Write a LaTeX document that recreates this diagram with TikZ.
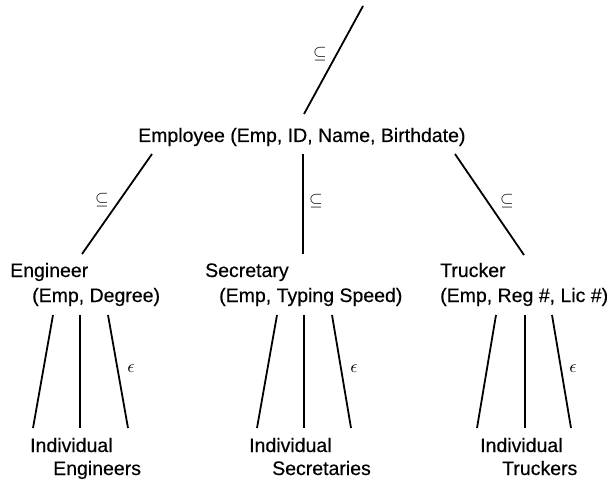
\documentclass[tikz,border=0pt]{standalone}
\usepackage{fontspec}
\setmainfont{Liberation Sans}[FakeBold=0.4]
\newcommand{\subrel}{\scalebox{1.75}{$\subseteq$}}
\newcommand{\memrel}{\scalebox{1.8}{$\epsilon$}}
\begin{document}
\begin{tikzpicture}[x=1pt,y=-1pt,
  edge/.style={line width=1.8pt},
  txt/.style={anchor=base west, inner sep=0pt, font=\fontsize{19.5}{23}\selectfont},
  rel/.style={inner sep=0pt},
  mem/.style={inner sep=0pt}]
\useasboundingbox (0,0) rectangle (612,481);
% text nodes
\node[txt] (emp) at (138,142) {Employee (Emp, ID, Name, Birthdate)};
\node[txt] (eng) at (10,277) {Engineer};
\node[txt] (enga) at (32,302) {(Emp, Degree)};
\node[txt] (sec) at (205,277) {Secretary};
\node[txt] (seca) at (219,302) {(Emp, Typing Speed)};
\node[txt] (tru) at (440,277) {Trucker};
\node[txt] (trua) at (440,302) {(Emp, Reg \#, Lic \#)};
\node[txt] (ieng) at (30,452) {Individual};
\node[txt] (ieng2) at (53,475) {Engineers};
\node[txt] (isec) at (249,452) {Individual};
\node[txt] (isec2) at (272,475) {Secretaries};
\node[txt] (itru) at (480,452) {Individual};
\node[txt] (itru2) at (502,475) {Truckers};
% line end points
\coordinate (top) at (363,6);
\coordinate (empT) at (304,114);
\coordinate (empL) at (152,154);
\coordinate (empM) at (303,154);
\coordinate (empR) at (455,154);
\coordinate (engT) at (82,254);
\coordinate (secT) at (303,254);
\coordinate (truT) at (524,255);
\coordinate (engB1) at (53,315);  \coordinate (iengT1) at (33,428);
\coordinate (engB2) at (80,315);  \coordinate (iengT2) at (80,428);
\coordinate (engB3) at (108,315); \coordinate (iengT3) at (128,428);
\coordinate (secB1) at (277,315); \coordinate (isecT1) at (257,428);
\coordinate (secB2) at (304,315); \coordinate (isecT2) at (304,428);
\coordinate (secB3) at (332,315); \coordinate (isecT3) at (351,428);
\coordinate (truB1) at (496,315); \coordinate (itruT1) at (477,428);
\coordinate (truB2) at (525,315); \coordinate (itruT2) at (525,428);
\coordinate (truB3) at (552,315); \coordinate (itruT3) at (571,428);
% connectors
\draw[edge] (top) -- (empT);
\draw[edge] (empL) -- (engT);
\draw[edge] (empM) -- (secT);
\draw[edge] (empR) -- (truT);
\foreach \g/\i in {eng/ieng, sec/isec, tru/itru}{
  \foreach \k in {1,2,3}{
    \draw[edge] (\g B\k) -- (\i T\k);
  }
}
% labels
\node[rel] (r0) at (320,54) {\subrel};
\node[rel] (r1) at (102,200) {\subrel};
\node[rel] (r2) at (316,201) {\subrel};
\node[rel] (r3) at (507,201) {\subrel};
\node[mem] (m1) at (131,369) {\memrel};
\node[mem] (m2) at (354,369) {\memrel};
\node[mem] (m3) at (573,369) {\memrel};
\end{tikzpicture}
\end{document}
